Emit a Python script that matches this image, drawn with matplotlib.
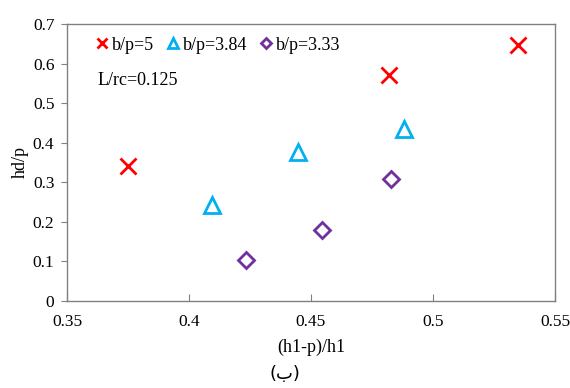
import matplotlib
matplotlib.use("Agg")
import matplotlib.pyplot as plt

plt.rcParams['font.family'] = ['Liberation Serif', 'DejaVu Serif', 'DejaVu Sans']

# (h1-p)/h1 and hd/p for each b/p ratio
x_b5 = [0.375, 0.482, 0.5347]
y_b5 = [0.3405, 0.571, 0.647]
x_b384 = [0.4093, 0.4445, 0.4882]
y_b384 = [0.242, 0.376, 0.433]
x_b333 = [0.4232, 0.4545, 0.4827]
y_b333 = [0.1025, 0.179, 0.307]

labels = ['b/p=5', 'b/p=3.84', 'b/p=3.33']
x_ticks = [0.35, 0.4, 0.45, 0.5, 0.55]
y_ticks = [0, 0.1, 0.2, 0.3, 0.4, 0.5, 0.6, 0.7]

fig = plt.figure(figsize=(5.7, 3.88), dpi=100)
ax = fig.add_axes([0.1175, 0.2255, 0.8561, 0.7126])

ax.plot(x_b5, y_b5, linestyle='none', marker='x', color='#FF0000',
        markersize=11, markeredgewidth=2.0, label=labels[0])
ax.plot(x_b384, y_b384, linestyle='none', marker='^', markerfacecolor='none',
        markeredgecolor='#00B0F0', markersize=11, markeredgewidth=2.0, label=labels[1])
ax.plot(x_b333, y_b333, linestyle='none', marker='D', markerfacecolor='none',
        markeredgecolor='#7030A0', markersize=8, markeredgewidth=2.0, label=labels[2])

ax.set_xlim(0.35, 0.55)
ax.set_ylim(0, 0.7)
ax.set_xticks(x_ticks)
ax.set_xticklabels(['0.35', '0.4', '0.45', '0.5', '0.55'])
ax.set_yticks(y_ticks)
ax.set_yticklabels(['0', '0.1', '0.2', '0.3', '0.4', '0.5', '0.6', '0.7'])

for s in ax.spines.values():
    s.set_color('#808080')
    s.set_linewidth(1.0)
ax.tick_params(axis='x', direction='in', length=5, color='#808080', labelsize=12.5, pad=10)
ax.tick_params(axis='y', direction='out', length=4, color='#808080', labelsize=12.5, pad=5)
ax.tick_params(top=False, right=False)

ax.set_xlabel('(h1-p)/h1', fontsize=13, labelpad=6)
ax.set_ylabel('hd/p', fontsize=13, labelpad=3)

leg = ax.legend(loc='upper left', ncol=3, frameon=False, fontsize=13,
                markerscale=0.65, handlelength=0.6, handletextpad=0.25,
                columnspacing=0.75, borderaxespad=0.3, bbox_to_anchor=(0.035, 1.0))

ax.text(0.062, 0.797, 'L/rc=0.125', transform=ax.transAxes, fontsize=13,
        va='center', ha='left')

fig.text(0.5, 0.035, '(ب)', ha='center', va='center', fontsize=13,
         family=['DejaVu Sans', 'Liberation Serif'])

fig.savefig('out.png', dpi=100)
